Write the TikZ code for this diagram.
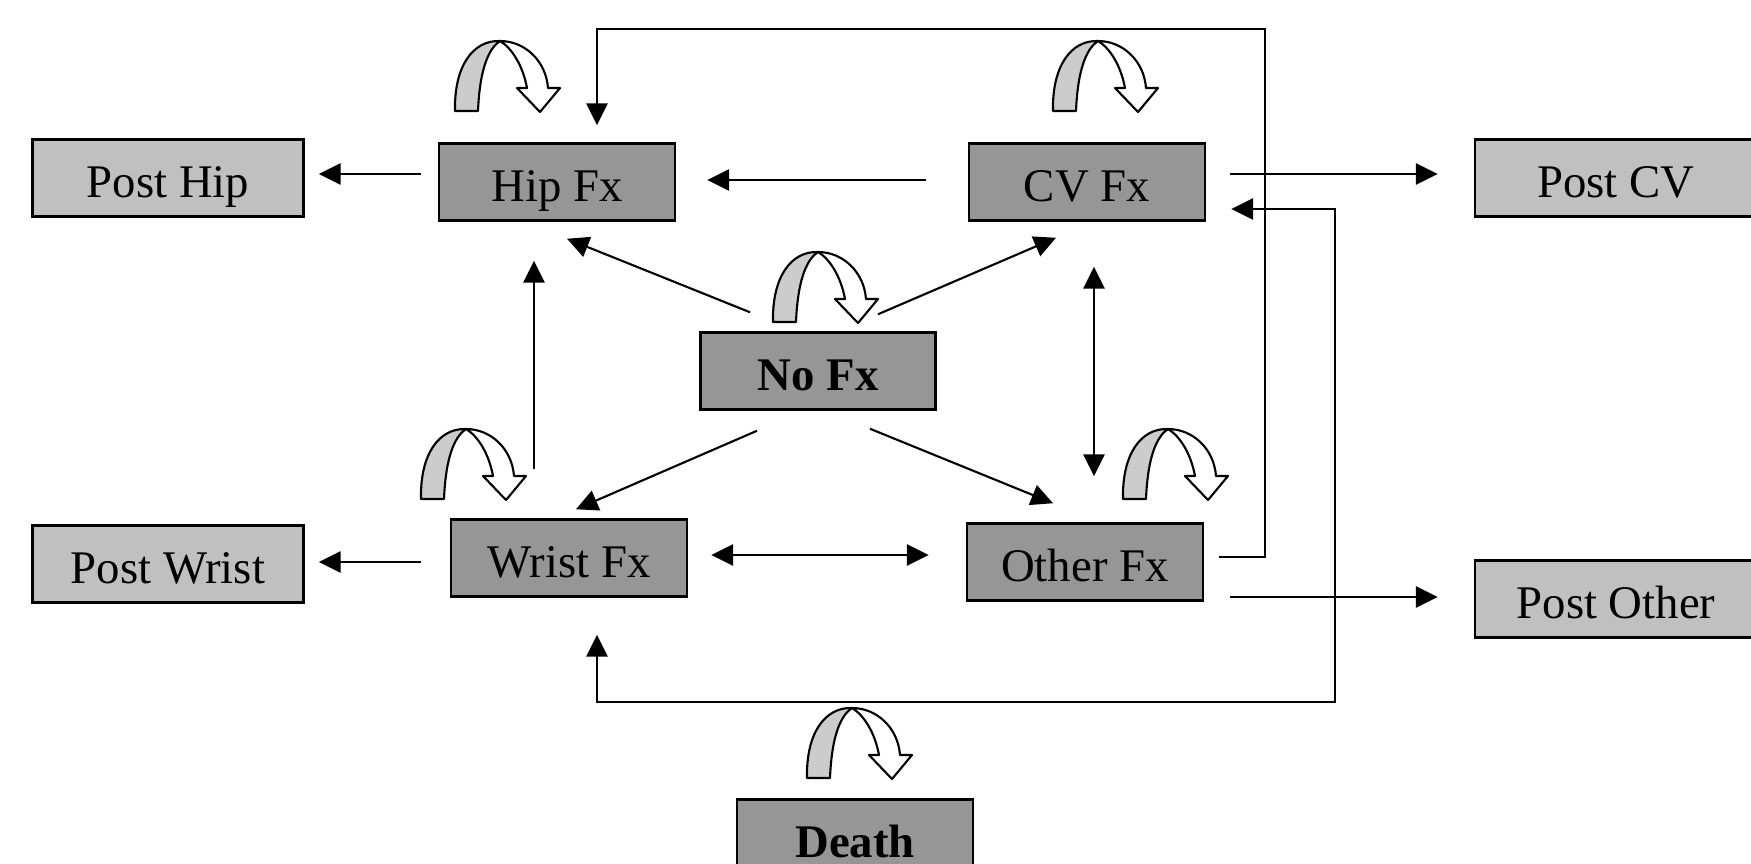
\documentclass[tikz,border=0pt]{standalone}
\usepackage{fontspec}
\setmainfont{Liberation Serif}
\usetikzlibrary{arrows.meta}
\definecolor{fxgray}{RGB}{150,150,150}
\definecolor{postgray}{RGB}{192,192,192}
\definecolor{loopgray}{RGB}{204,204,204}
\newcommand{\selfloop}[1]{%
	\begin{scope}[shift={#1},line width=0.6pt,line join=round]
		\filldraw[fill=loopgray] (0,0) -- (23,0) .. controls (25,-48) and (36,-64) .. (45,-70) .. controls (18,-71) and (-1,-45) .. (0,0) -- cycle;
		\filldraw[fill=white] (45,-70) .. controls (70,-70) and (91,-50) .. (93,-23) -- (105,-23) -- (85,1) -- (62,-23) -- (72,-23) .. controls (68,-45) and (57,-63) .. (45,-70) -- cycle;
	\end{scope}}
\begin{document}
\begin{tikzpicture}[x=0.01cm,y=-0.01cm,
		conn/.style={-{Triangle[length=6.2pt,width=6pt]},line width=0.6pt},
		twoway/.style={{Triangle[length=6.2pt,width=6pt]}-{Triangle[length=6.2pt,width=6pt]},line width=0.6pt}]
	\useasboundingbox (0,0) rectangle (1751,863);
	
	\begin{scope}[every node/.style={rectangle,draw,line width=0.7pt,inner sep=0pt,minimum height=0.77cm,text height=11.3pt,text depth=0pt,font=\fontsize{13.3}{16}\selectfont}]
		\node[fill=fxgray,minimum width=2.36cm] (hip) at (557,182) {Hip Fx};
		\node[fill=fxgray,minimum width=2.36cm] (cv) at (1087,182) {CV Fx};
		\node[fill=fxgray,minimum width=2.35cm] (nofx) at (818,371) {\textbf{No Fx}};
		\node[fill=fxgray,minimum width=2.36cm] (wrist) at (569,558) {Wrist Fx};
		\node[fill=fxgray,minimum width=2.36cm] (other) at (1085,562) {Other Fx};
		\node[fill=fxgray,minimum width=2.36cm] (death) at (855,838) {\textbf{Death}};
		\node[fill=postgray,minimum width=2.71cm] (posthip) at (168,178) {Post Hip};
		\node[fill=postgray,minimum width=2.71cm] (postwrist) at (168,564) {Post Wrist};
		\node[fill=postgray,minimum width=2.82cm] (postcv) at (1616,178) {Post CV};
		\node[fill=postgray,minimum width=2.82cm] (postother) at (1616,599) {Post Other};
	\end{scope}
	
	\selfloop{(455,111)}
	\selfloop{(1053,111)}
	\selfloop{(773,322)}
	\selfloop{(421,499)}
	\selfloop{(1123,499)}
	\selfloop{(807,778)}
	
	\coordinate (topright) at (1265,29);
	\coordinate (botright) at (1335,702);
	
	\begin{scope}
		\draw[conn] ([shift={(-17,-8)}]hip.west) -- ([shift={(14,-4)}]posthip.east);
		\draw[conn] ([shift={(-42,-2)}]cv.west) -- ([shift={(31,-2)}]hip.east);
		\draw[conn] ([shift={(24,-8)}]cv.east) -- ([shift={(-36,-4)}]postcv.west);
		\draw[conn] ([shift={(15,-5)}]other.east) -| (topright) -| ([shift={(40,-17)}]hip.north);
		\draw[twoway] ([shift={(25,27)}]cv.east) -| (botright) -| ([shift={(28,37)}]wrist.south);
		\draw[conn] ([shift={(26,35)}]other.east) -- ([shift={(-36,-2)}]postother.west);
		\draw[conn] ([shift={(-29,4)}]wrist.west) -- ([shift={(14,-2)}]postwrist.east);
		\draw[twoway] ([shift={(23,-3)}]wrist.east) -- ([shift={(-37,-7)}]other.west);
		\draw[conn] ([shift={(-35,-49)}]wrist.north) -- ([shift={(-23,39)}]hip.south);
		\draw[twoway] ([shift={(7,45)}]cv.south) -- ([shift={(9,-46)}]other.north);
		\draw[conn] ([shift={(-68,-19)}]nofx.north) -- ([shift={(10,17)}]hip.south);
		\draw[conn] ([shift={(60,-17)}]nofx.north) -- ([shift={(-31,16)}]cv.south);
		\draw[conn] ([shift={(-61,20)}]nofx.south) -- ([shift={(7,-9)}]wrist.north);
		\draw[conn] ([shift={(52,18)}]nofx.south) -- ([shift={(-32,-19)}]other.north);
	\end{scope}
\end{tikzpicture}
\end{document}
